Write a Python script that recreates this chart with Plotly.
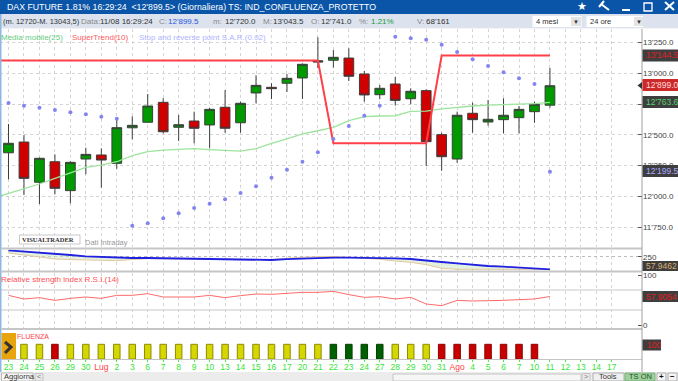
import plotly.graph_objects as go

W, H = 678, 381
PANEL_R = 642

# ---------- data ----------
days = ["23","24","25","26","29","30","Lug","2","3","6","7","8","9","10","13","14","15","16","17","20",
        "21","22","23","24","27","28","29","30","31","Ago","4","5","6","7","10","11","12","13","14","17"]
opens = [12354,12441,12114,12281,12046,12303,12336,12268,12557,12602,12764,12561,12612,12580,12724,12598,12840,12886,12919,12962,
         13102,13106,13124,12994,12826,12913,12793,12859,12501,12303,12675,12604,12623,12639,12688,12741]
highs = [12588,12498,12315,12341,12285,12395,12390,12642,12650,12832,12797,12661,12688,12718,12864,12769,12984,12919,12994,13081,
         13293,13189,13203,13019,12905,12972,12878,12870,12517,12688,12761,12783,12797,12734,12769,13043.5]
lows = [12138,12011,11937,12016,11943,12179,12070,12224,12463,12600,12512,12450,12431,12390,12517,12517,12756,12791,12848,12791,
        13043,13046,12937,12769,12789,12737,12748,12246,12208,12273,12517,12574,12512,12512,12598,12720]
closes = [12431,12146,12309,12065,12276,12341,12295,12558,12577,12734,12525,12582,12553,12707,12553,12756,12902,12875,12959,13073,
          13092,13130,12976,12824,12878,12780,12854,12444,12322,12659,12623,12626,12659,12707,12748,12899]
sma25 = [11985,12024,12065,12100,12146,12192,12236,12254,12281,12330,12363,12376,12382,12387,12379,12371,12368,12387,12431,12466,
         12507,12533,12561,12615,12647,12653,12655,12691,12693,12710,12724,12734,12742,12748,12750,12753,12763.6]
supertrend = [13104]*22 + [12431]*7 + [13144.5]*8
sar = [12759,12737,12720,12702,12683,12667,12647,12631,11761,11780,11821,11862,11905,11940,11976,12027,12081,12151,12216,12281,
       12358,12466,12572,12655,12737,13298,13285,13273,13233,13173,13114,13059,13008,12959,12913,12199.5]
osc_blue = [314,304,290,277,267,254,247,240,237,237,234,230,227,224,222,217,214,217,225,232,237,240,240,240,237,234,227,210,197,184,170,157,150,140,130,124]
osc_tan = [287,267,247,227,222,217,212,210,222,230,230,227,224,222,220,217,217,222,235,245,250,252,244,237,224,207,194,170,134,124,124,124,124,124,122,124]
rsi = [59.3,52,54.7,49.3,53.3,56,53.3,59.3,59.3,62.7,56,56.7,56,59.3,54.7,58.7,62,61.3,63.3,65.3,65.3,67.3,60.7,55.3,56.7,52,55.3,42,38.7,49.3,48,48,49.3,50.7,52,57]
conf_state = ["Y","Y","Y","R"] + ["Y"]*17 + ["G"]*4 + ["Y"]*3 + ["R"]*7
conf_value = [100]*35
price_ticks = [13250,13000,12750,12500,12250,12000,11750]
price_tick_text = ["13'250.0","13'000.0","","12'500.0","12'250.0","12'000.0","11'750.0"]

idx = list(range(len(opens)))
idx_ext = [-1] + idx
all_idx = list(range(len(days)))

STEP = 15.47
X0 = 8.5
xrange_ = [-X0/STEP, (PANEL_R-X0)/STEP]

def fx(px): return px/W
def fy(py): return 1-py/H

GREEN = "#009a00"; RED = "#d00000"
FONT = "Liberation Sans, Arial, sans-serif"

fig = go.Figure()
fig.add_trace(go.Scatter(x=idx_ext, y=sma25, mode="lines", line=dict(color="#9ce49c", width=1.3), xaxis="x", yaxis="y", hoverinfo="skip"))
fig.add_trace(go.Scatter(x=idx_ext, y=supertrend, mode="lines", line=dict(color="#ff4048", width=2), xaxis="x", yaxis="y", hoverinfo="skip"))
fig.add_trace(go.Candlestick(x=idx, open=opens, high=highs, low=lows, close=closes, xaxis="x", yaxis="y", whiskerwidth=0,
    increasing=dict(fillcolor=GREEN, line=dict(color="#3a3f3a", width=1)),
    decreasing=dict(fillcolor=RED, line=dict(color="#3f3a3a", width=1))))
fig.add_trace(go.Scatter(x=idx, y=sar, mode="markers", marker=dict(color="#8484f0", size=4), xaxis="x", yaxis="y", hoverinfo="skip"))

fig.add_trace(go.Scatter(x=idx, y=osc_tan, mode="lines", line=dict(color="#e0c8a0", width=1), xaxis="x", yaxis="y2", hoverinfo="skip"))
fig.add_trace(go.Scatter(x=idx, y=osc_blue, mode="lines", line=dict(color="#2020e0", width=1.8), fill="tonexty",
                         fillcolor="rgba(205,230,195,0.55)", xaxis="x", yaxis="y2", hoverinfo="skip"))

fig.add_trace(go.Scatter(x=idx, y=rsi, mode="lines", line=dict(color="#ff6a6a", width=1), xaxis="x", yaxis="y3", hoverinfo="skip"))

fill_map = {"Y": "#d6d600", "R": "#c80000", "G": "#005f00"}
edge_map = {"Y": "#8c8c00", "R": "#8c0000", "G": "#004000"}
fig.add_trace(go.Bar(x=idx[:35], y=conf_value, width=0.42,
    marker=dict(color=[fill_map[s] for s in conf_state], line=dict(color=[edge_map[s] for s in conf_state], width=1)),
    xaxis="x2", yaxis="y4", hoverinfo="skip"))

tick_labels = [('<span style="color:#ff4040">%s</span>' % d) if d in ("Lug", "Ago") else d for d in days]
grid = "#d4d4d4"
tfont = dict(size=8, color="#444", family=FONT)

dom = lambda top, bot: [fy(bot), fy(top)]
fig.update_layout(
    width=W, height=H, autosize=False, margin=dict(l=0, r=0, t=0, b=0),
    paper_bgcolor="white", plot_bgcolor="white", showlegend=False, bargap=0.5, boxmode="overlay", boxgap=0.1,
    font=dict(family=FONT, size=9, color="#333"),
    xaxis=dict(domain=[0, PANEL_R/W], range=xrange_, anchor="y", tickmode="array", tickvals=all_idx, showticklabels=False,
               automargin=False, ticks="", showgrid=True, gridcolor=grid, griddash="dot", gridwidth=1, zeroline=False, rangeslider=dict(visible=False)),
    xaxis2=dict(domain=[0, PANEL_R/W], range=xrange_, anchor="y4", tickmode="array", tickvals=all_idx, ticktext=tick_labels, automargin=False,
                tickangle=0, ticks="outside", ticklen=2, tickcolor="#44ee44", showgrid=False, zeroline=False, ticklabelstandoff=-2,
                tickfont=dict(color="#33e633", size=8.5, family=FONT), showline=True, linecolor="#c4c4c4"),
    yaxis=dict(domain=dom(29, 247.5), range=[13000-(247.5-73.3)*8.13, 13000+(73.3-29)*8.13], side="right", anchor="x", automargin=False,
               tickmode="array", tickvals=price_ticks, ticktext=price_tick_text, ticks="inside", ticklen=4, tickcolor="#555",
               showgrid=True, gridcolor=grid, griddash="dot", zeroline=False, tickfont=tfont),
    yaxis2=dict(domain=dom(249.5, 270.5), range=[250-(270.5-256.7)*10, 250+(256.7-249.5)*10], side="right", anchor="x", automargin=False,
                tickmode="array", tickvals=[250], ticktext=["250"], ticks="inside", ticklen=4, tickcolor="#555",
                showgrid=True, gridcolor="#bbbbbb", griddash="dot", zeroline=False, tickfont=tfont),
    yaxis3=dict(domain=dom(272.5, 328), range=[(325-328)/0.5, (325-272.5)/0.5], side="right", anchor="x", automargin=False,
                tickmode="array", tickvals=[100, 0], ticktext=["100", "0"], ticks="inside", ticklen=4, tickcolor="#555",
                showgrid=False, zeroline=False, tickfont=tfont),
    yaxis4=dict(domain=dom(330, 359), range=[0, (359-330)/0.147], side="right", anchor="x2", showticklabels=False, ticks="", automargin=False,
                showgrid=False, zeroline=False),
)

shapes = []
def rect(x0, y0, x1, y1, fill, line=None, lw=0):
    shapes.append(dict(type="rect", xref="paper", yref="paper", x0=fx(x0), x1=fx(x1), y0=fy(y0), y1=fy(y1),
                       fillcolor=fill, line=dict(color=line or fill, width=lw), layer="above"))
def seg(x0, y0, x1, y1, color, lw=1):
    shapes.append(dict(type="line", xref="paper", yref="paper", x0=fx(x0), x1=fx(x1), y0=fy(y0), y1=fy(y1),
                       line=dict(color=color, width=lw), layer="above"))

# RSI 70 / 30 levels
for lv in (70, 30):
    shapes.append(dict(type="line", xref="paper", yref="y3", x0=0, x1=PANEL_R/W, y0=lv, y1=lv, line=dict(color="#c8c8c8", width=1), layer="below"))

# window chrome
rect(0, 0, W, 14, "#0a55a8")
rect(0, 14, W, 28, "#dce3ee")
rect(0, 28, W, 29, "#f4f4f4")
rect(0, 14, 1.5, 372, "#8db8e4")
rect(532.5, 16, 581.5, 27, "#ffffff")
rect(586.5, 16, 643, 27, "#ffffff")
rect(571, 17, 581, 26, "#e4e4e4")
rect(634, 17, 643, 26, "#e4e4e4")
# panel separators
for y0, y1 in ((247.5, 249.5), (270.5, 272.5), (328, 330)):
    rect(1.5, y0, PANEL_R, y1, "#c6c6c6")
seg(PANEL_R, 29, PANEL_R, 372, "#a0a0a0", 1)
# orange corner box and chevron
rect(1.5, 333, 16, 359, "#e8a40c")
shapes.append(dict(type="path", xref="paper", yref="paper", layer="above", line=dict(color="#333", width=3),
                   path="M %f %f L %f %f L %f %f" % (fx(5), fy(342), fx(11), fy(347), fx(5), fy(353))))
# VISUALTRADER box
rect(19.5, 235, 80, 244, "#ffffff", "#c8c8c8", 1)
# bottom bar
rect(0, 372, W, H, "#ececec")
rect(1.5, 373, 33, H, "#f8f8f8", "#bbbbbb", 1)
rect(35, 373.5, 43, H, "#e8e8e8", "#c4c4c4", 1)
rect(393, 374, 581, H, "#f6f6f6", "#c4c4c4", 1)
rect(582, 373.5, 590, H, "#e8e8e8", "#c4c4c4", 1)
rect(593, 373, 624, H, "#f0f0f0", "#b0b0b0", 1)
rect(625, 373, 655, H, "#9ed09e", "#7ab07a", 1)
rect(657, 373, 666, H, "#f4f4f4", "#b0b0b0", 1)
rect(668, 373, 677, H, "#f4f4f4", "#b0b0b0", 1)
# right-hand value boxes
BOXES = [(49.5, 61.5, "#3e3e3e", 678), (79, 91, "#cc2a2a", 678), (96, 108, "#3e3e3e", 678), (165, 177, "#3e3e3e", 678),
         (261, 271, "#3e3e3e", 678), (291, 302, "#3e3e3e", 678), (339.5, 350.5, "#3e3e3e", 661)]
for y0, y1, c, x1 in BOXES:
    rect(642.5, y0, x1, y1, c)
# pointer by the last price
shapes.append(dict(type="path", xref="paper", yref="paper", layer="above", fillcolor="#333", line=dict(color="#333", width=0),
                   path="M %f %f L %f %f L %f %f Z" % (fx(637.5), fy(85.5), fx(642), fy(82), fx(642), fy(89))))
# title bar icons
seg(601, 4, 609, 10, "white", 2)
seg(599, 7, 604, 1, "white", 2)
seg(622, 10, 630, 10, "white", 2)
rect(644, 3, 652, 11, "rgba(0,0,0,0)", "white", 1.3)
seg(665, 2, 674, 10, "white", 2)
seg(674, 2, 665, 10, "white", 2)
fig.update_layout(shapes=shapes)

ann = []
def text(x, y, s, color="#333", size=9, anchor="left", bold=False, family=FONT):
    ann.append(dict(xref="paper", yref="paper", x=fx(x), y=fy(y), text=("<b>%s</b>" % s) if bold else s, showarrow=False,
                    xanchor=anchor, yanchor="middle", font=dict(color=color, size=size, family=family), borderpad=0))

text(6, 6.5, "DAX FUTURE 1.81% 16:29:24  &lt;12'899.5&gt; (Giornaliera) TS: IND_CONFLUENZA_PROTETTO", "white", 8.75)
text(581.7, 5.5, "★", "white", 11, "center")
row2 = [(2, "(m. 12720-M. 13043,5)", "#333"), (80, "Data:", "#888"), (99, "11/08 16:29:24", "#333"), (158, "C:", "#888"),
        (167, "12'899.5", "#2a55dd"), (212, "m:", "#888"), (224, "12'720.0", "#333"), (262, "M:", "#888"), (272, "13'043.5", "#333"),
        (310, "O:", "#888"), (320, "12'741.0", "#333"), (358, "%:", "#888"), (370, "1.21%", "#1a9a3a"), (416, "V:", "#888"), (425, "68'161", "#333")]
for x, s, c in row2:
    text(x, 21.5, s, c, 7.5 if x == 2 else 8)
text(535, 21.5, "4 mesi", "#333", 7.5)
text(589, 21.5, "24 ore", "#333", 7.5)
text(576, 21.5, "▼", "#333", 6, "center")
text(638.5, 21.5, "▼", "#333", 6, "center")
text(0, 38, "Media mobile(25)", "#66cc80", 8)
text(71, 38, "SuperTrend(10)", "#ff5a60", 8)
text(138, 38, "Stop and reverse point S.A.R.(0.02)", "#b0b4ff", 8)
text(21, 239.5, "VISUALTRADER", "#333", 6.5, bold=True, family="Liberation Serif, serif")
text(84, 242, "Dati Intraday", "#999", 7.5)
text(0, 279, "Relative strength index R.S.I.(14)", "#ff5058", 8)
text(16, 336.5, "FLUENZA", "#ff4048", 7)
text(3, 376.5, "Aggiorna", "#333", 7.5)
text(39, 376.5, "&lt;", "#777", 7, "center")
text(586, 376.5, "&gt;", "#777", 7, "center")
text(608, 376.5, "Tools", "#333", 7.5, "center")
text(640, 376.5, "TS ON", "#225522", 7.5, "center")
text(661.5, 376.5, "+", "#111", 8, "center", bold=True)
text(672.5, 376.5, "−", "#111", 8, "center", bold=True)
for y, s, c in ((55.5, "13'144.5", "#e02020"), (85, "12'899.0", "#ffd8d8"), (102, "12'763.6", "#55d070"), (171, "12'199.5", "#a8a8ff"),
                (266, "57.9462", "#d8b070"), (296.5, "57.9054", "#e02020")):
    text(645, y, s, c, 8.5)
text(645.5, 345, "100", "#e02020", 8.5)
fig.update_layout(annotations=ann)

fig.write_html("out.html", config={"displayModeBar": False},
               post_script="document.body.style.margin='0';document.documentElement.style.overflow='hidden';")
